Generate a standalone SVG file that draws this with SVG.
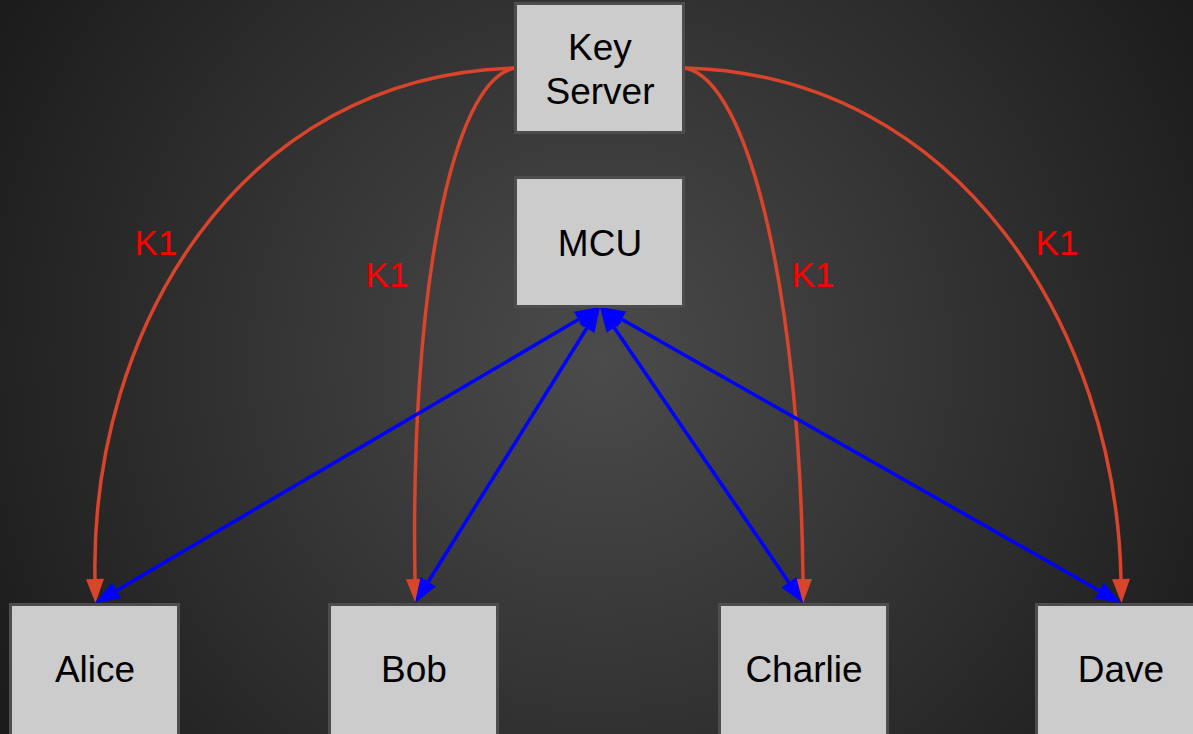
<svg xmlns="http://www.w3.org/2000/svg" width="1193" height="734" viewBox="0 0 1193 734">
  <defs>
    <radialGradient id="bg" gradientUnits="userSpaceOnUse" cx="600" cy="360" r="700">
      <stop offset="0" stop-color="#4b4b4b"/>
      <stop offset="1" stop-color="#1b1b1b"/>
    </radialGradient>
    <!-- red key-distribution arrowhead: base at the path end, tip 24px further -->
    <marker id="redHead" markerUnits="userSpaceOnUse" markerWidth="24" markerHeight="18" refX="0" refY="9" orient="auto" overflow="visible">
      <path d="M0,0 L24,9 L0,18 z" fill="#d9442b"/>
    </marker>
    <!-- blue media arrowhead, used on both ends -->
    <marker id="blueHead" markerUnits="userSpaceOnUse" markerWidth="25" markerHeight="18" refX="0" refY="9" orient="auto-start-reverse" overflow="visible">
      <path d="M0,0 L25,9 L0,18 z" fill="#0000ff"/>
    </marker>
    <style>
      .node rect { fill: #cccccc; stroke: #4d4d4d; stroke-width: 3; }
      .node text { font-family: "Liberation Sans", Arial, sans-serif; font-size: 37px; fill: #000000; text-anchor: middle; }
      .key { fill: none; stroke: #d9442b; stroke-width: 3.5; marker-end: url(#redHead); }
      .media { fill: none; stroke: #0000ff; stroke-width: 3.5; marker-start: url(#blueHead); marker-end: url(#blueHead); }
      .label { font-family: "Liberation Sans", Arial, sans-serif; font-size: 35px; fill: #ff0000; text-anchor: middle; }
    </style>
  </defs>

  <rect x="0" y="0" width="1193" height="734" fill="url(#bg)"/>

  <g id="connectors">
    <!-- key server to each participant -->
    <path class="key" d="M515,68 C240,75 90,330 95,579"/>
    <path class="key" d="M515,68 C450,80 410,300 415,579"/>
    <path class="key" d="M685,68 C750,80 800,300 803,579"/>
    <path class="key" d="M685,68 C960,75 1116,330 1121,579"/>
    <!-- MCU media links -->
    <line class="media" x1="578.4" y1="319.6" x2="116.6" y2="590.4"/>
    <line class="media" x1="586.75" y1="328.2" x2="428.25" y2="581.8"/>
    <line class="media" x1="614.1" y1="327.6" x2="788.9" y2="582.4"/>
    <line class="media" x1="621.7" y1="319.35" x2="1099.3" y2="590.65"/>
    <text class="label" x="156" y="255">K1</text>
    <text class="label" x="387" y="287">K1</text>
    <text class="label" x="813" y="287">K1</text>
    <text class="label" x="1057" y="255">K1</text>
  </g>

  <g id="key-server" class="node">
    <rect x="515.5" y="3.5" width="168" height="129"/>
    <text x="600" y="60">Key</text>
    <text x="600" y="104">Server</text>
  </g>
  <g id="mcu" class="node">
    <rect x="515.5" y="177.5" width="168" height="129"/>
    <text x="600" y="256">MCU</text>
  </g>
  <g id="alice" class="node">
    <rect x="10.5" y="604.5" width="168" height="140"/>
    <text x="95" y="682">Alice</text>
  </g>
  <g id="bob" class="node">
    <rect x="329.5" y="604.5" width="168" height="140"/>
    <text x="414" y="682">Bob</text>
  </g>
  <g id="charlie" class="node">
    <rect x="719.5" y="604.5" width="168" height="140"/>
    <text x="804" y="682">Charlie</text>
  </g>
  <g id="dave" class="node">
    <rect x="1036.5" y="604.5" width="168" height="140"/>
    <text x="1121" y="682">Dave</text>
  </g>
</svg>
